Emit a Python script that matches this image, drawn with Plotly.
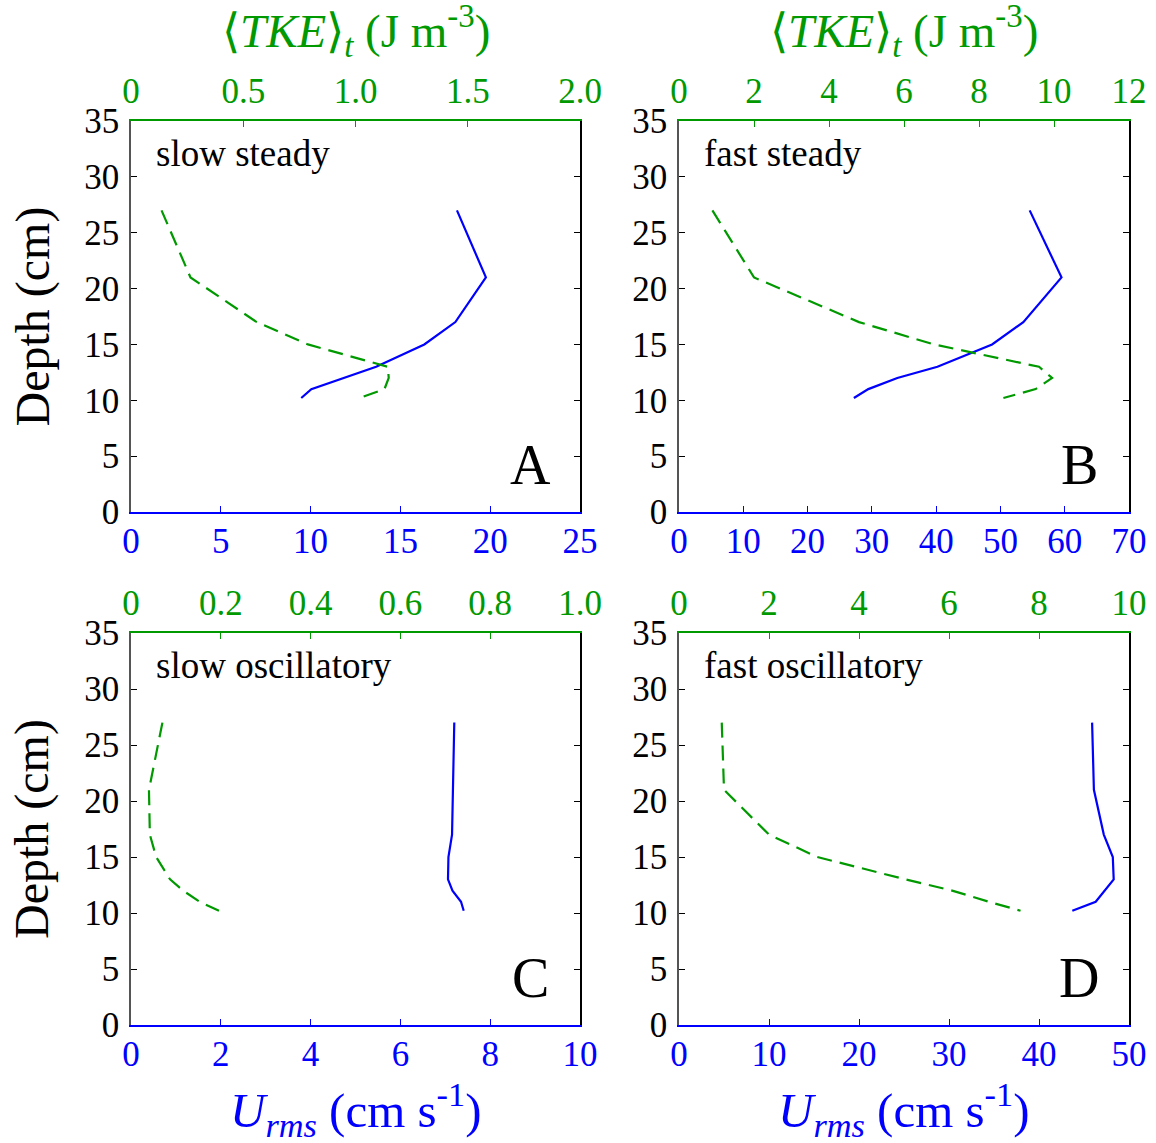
import plotly.graph_objects as go

# ---------------- data ----------------
depth_A = [27, 21, 17, 15, 13, 11, 10.2]
urms_A = [18.15, 19.76, 18.06, 16.33, 13.65, 10.04, 9.48]
depth_A_tke = [27, 21, 17, 15, 13, 12, 11, 10.2]
tke_A = [0.136, 0.265, 0.56, 0.788, 1.144, 1.148, 1.129, 1.018]

depth_B = [27, 21, 17, 15, 13, 12, 11, 10.2]
urms_B = [54.55, 59.5, 53.56, 48.7, 40.2, 33.96, 29.45, 27.2]
tke_B = [0.89, 2.0, 4.8, 6.8, 9.6, 9.95, 9.51, 8.65]

depth_C = [27, 21, 17, 15, 13, 12, 11, 10.2]
urms_C = [7.2, 7.18, 7.15, 7.07, 7.06, 7.16, 7.35, 7.41]
tke_C = [0.070, 0.040, 0.042, 0.056, 0.087, 0.116, 0.153, 0.196]

depth_D = [27, 21, 17, 15, 13, 11, 10.2]
urms_D = [45.9, 46.1, 47.2, 48.2, 48.3, 46.3, 43.7]
depth_D_tke = [27, 21, 17, 15, 13, 12, 11, 10.2]
tke_D = [0.95, 1.0, 2.0, 3.07, 5.04, 6.07, 6.89, 7.59]

panel_names = ["slow steady", "fast steady", "slow oscillatory", "fast oscillatory"]
panel_letters = ["A", "B", "C", "D"]

urms_ranges = [[0, 25], [0, 70], [0, 10], [0, 50]]
urms_ticks = [[0, 5, 10, 15, 20, 25], [0, 10, 20, 30, 40, 50, 60, 70],
              [0, 2, 4, 6, 8, 10], [0, 10, 20, 30, 40, 50]]
tke_ranges = [[0, 2.0], [0, 12], [0, 1.0], [0, 10]]
tke_ticks = [[0, 0.5, 1.0, 1.5, 2.0], [0, 2, 4, 6, 8, 10, 12],
             [0, 0.2, 0.4, 0.6, 0.8, 1.0], [0, 2, 4, 6, 8, 10]]
tke_ticktext = [["0", "0.5", "1.0", "1.5", "2.0"], ["0", "2", "4", "6", "8", "10", "12"],
                ["0", "0.2", "0.4", "0.6", "0.8", "1.0"], ["0", "2", "4", "6", "8", "10"]]
depth_ticks = [0, 5, 10, 15, 20, 25, 30, 35]

blue_series = [(urms_A, depth_A), (urms_B, depth_B), (urms_C, depth_C), (urms_D, depth_D)]
green_series = [(tke_A, depth_A_tke), (tke_B, depth_B), (tke_C, depth_C), (tke_D, depth_D_tke)]

# ---------------- layout geometry ----------------
W, H = 1156, 1143
BLUE = "#0000ff"
GREEN = "#009900"
FONT = "Liberation Serif"
TICK = 35

xdoms = [[131 / W, 580 / W], [679 / W, 1129 / W]]
ydoms = [[1 - 512 / H, 1 - 121 / H], [1 - 1025 / H, 1 - 633 / H]]


def sfx(n):
    return "" if n == 1 else str(n)


fig = go.Figure()
layout = dict(
    width=W, height=H, margin=dict(l=0, r=0, t=0, b=0, pad=0, autoexpand=False),
    paper_bgcolor="white", plot_bgcolor="white", showlegend=False,
    font=dict(family=FONT, size=32, color="black"),
)

annotations = []

for i in range(4):
    row, col = divmod(i, 2)
    a = sfx(i + 1)          # bottom / left axes
    b = sfx(i + 5)          # top / right axes
    layout["xaxis" + a] = dict(domain=xdoms[col], anchor="y" + a, range=urms_ranges[i],
                               tickvals=urms_ticks[i], ticks="inside", ticklen=6, tickcolor=BLUE,
                               showline=True, linecolor=BLUE, linewidth=1.5, showgrid=False,
                               zeroline=False, automargin=False,
                               tickfont=dict(family=FONT, size=TICK, color=BLUE),
                               ticklabelstandoff=-3)
    layout["yaxis" + a] = dict(domain=ydoms[row], anchor="x" + a, range=[0, 35],
                               tickvals=depth_ticks, ticks="inside", ticklen=6, tickcolor="black",
                               showline=True, linecolor="#555555", linewidth=1.5, showgrid=False,
                               zeroline=False, automargin=False,
                               tickfont=dict(family=FONT, size=TICK, color="black"),
                               ticklabelstandoff=3)
    layout["xaxis" + b] = dict(overlaying="x" + a, anchor="y" + b, side="top",
                               range=tke_ranges[i], tickvals=tke_ticks[i],
                               ticktext=tke_ticktext[i], ticks="inside", ticklen=6,
                               tickcolor=GREEN, showline=True, linecolor=GREEN, linewidth=1.5,
                               showgrid=False, zeroline=False, automargin=False,
                               tickfont=dict(family=FONT, size=TICK, color=GREEN),
                               ticklabelstandoff=2)
    layout["yaxis" + b] = dict(overlaying="y" + a, anchor="x" + b, side="right", range=[0, 35],
                               tickvals=depth_ticks, ticks="inside", ticklen=6, tickcolor="black",
                               showline=True, linecolor="black", linewidth=1.5, showgrid=False,
                               zeroline=False, showticklabels=False, automargin=False)

    ux, uy = blue_series[i]
    fig.add_trace(go.Scatter(x=ux, y=uy, mode="lines", xaxis="x" + a, yaxis="y" + a,
                             line=dict(color=BLUE, width=2.2)))
    tx, ty = green_series[i]
    fig.add_trace(go.Scatter(x=tx, y=ty, mode="lines", xaxis="x" + b, yaxis="y" + b,
                             line=dict(color=GREEN, width=2.2, dash="15px,8px")))

    annotations.append(dict(text=panel_names[i], xref="x" + a + " domain",
                            yref="y" + a + " domain", x=0.052, y=0.918, xanchor="left",
                            yanchor="middle", showarrow=False,
                            font=dict(family=FONT, size=37, color="black")))
    annotations.append(dict(text=panel_letters[i], xref="x" + a + " domain",
                            yref="y" + a + " domain", x=0.889, y=0.12, xanchor="center",
                            yanchor="middle", showarrow=False,
                            font=dict(family=FONT, size=56, color="black")))

# axis titles
tke_title = "⟨<i>TKE</i>⟩<sub><i>t</i></sub> (J m<sup>-3</sup>)"
urms_title = "<i>U<sub>rms</sub></i> (cm s<sup>-1</sup>)"
for col in range(2):
    xc = (xdoms[col][0] + xdoms[col][1]) / 2
    annotations.append(dict(text=tke_title, xref="paper", yref="paper", x=xc, y=1 - 31 / H,
                            xanchor="center", yanchor="middle", showarrow=False,
                            font=dict(family=FONT, size=47, color=GREEN)))
    annotations.append(dict(text=urms_title, xref="paper", yref="paper", x=xc,
                            y=1 - 1109 / H, xanchor="center", yanchor="middle",
                            showarrow=False, font=dict(family=FONT, size=49, color=BLUE)))
for row in range(2):
    yc = (ydoms[row][0] + ydoms[row][1]) / 2
    annotations.append(dict(text="Depth (cm)", xref="paper", yref="paper", x=32 / W, y=yc,
                            xanchor="center", yanchor="middle", textangle=-90,
                            showarrow=False, font=dict(family=FONT, size=48, color="black")))

layout["annotations"] = annotations
fig.update_layout(**layout)
fig.write_html("out.html", config={"displayModeBar": False},
               post_script="document.body.style.margin='0px';"
                           "document.body.style.overflow='hidden';")
